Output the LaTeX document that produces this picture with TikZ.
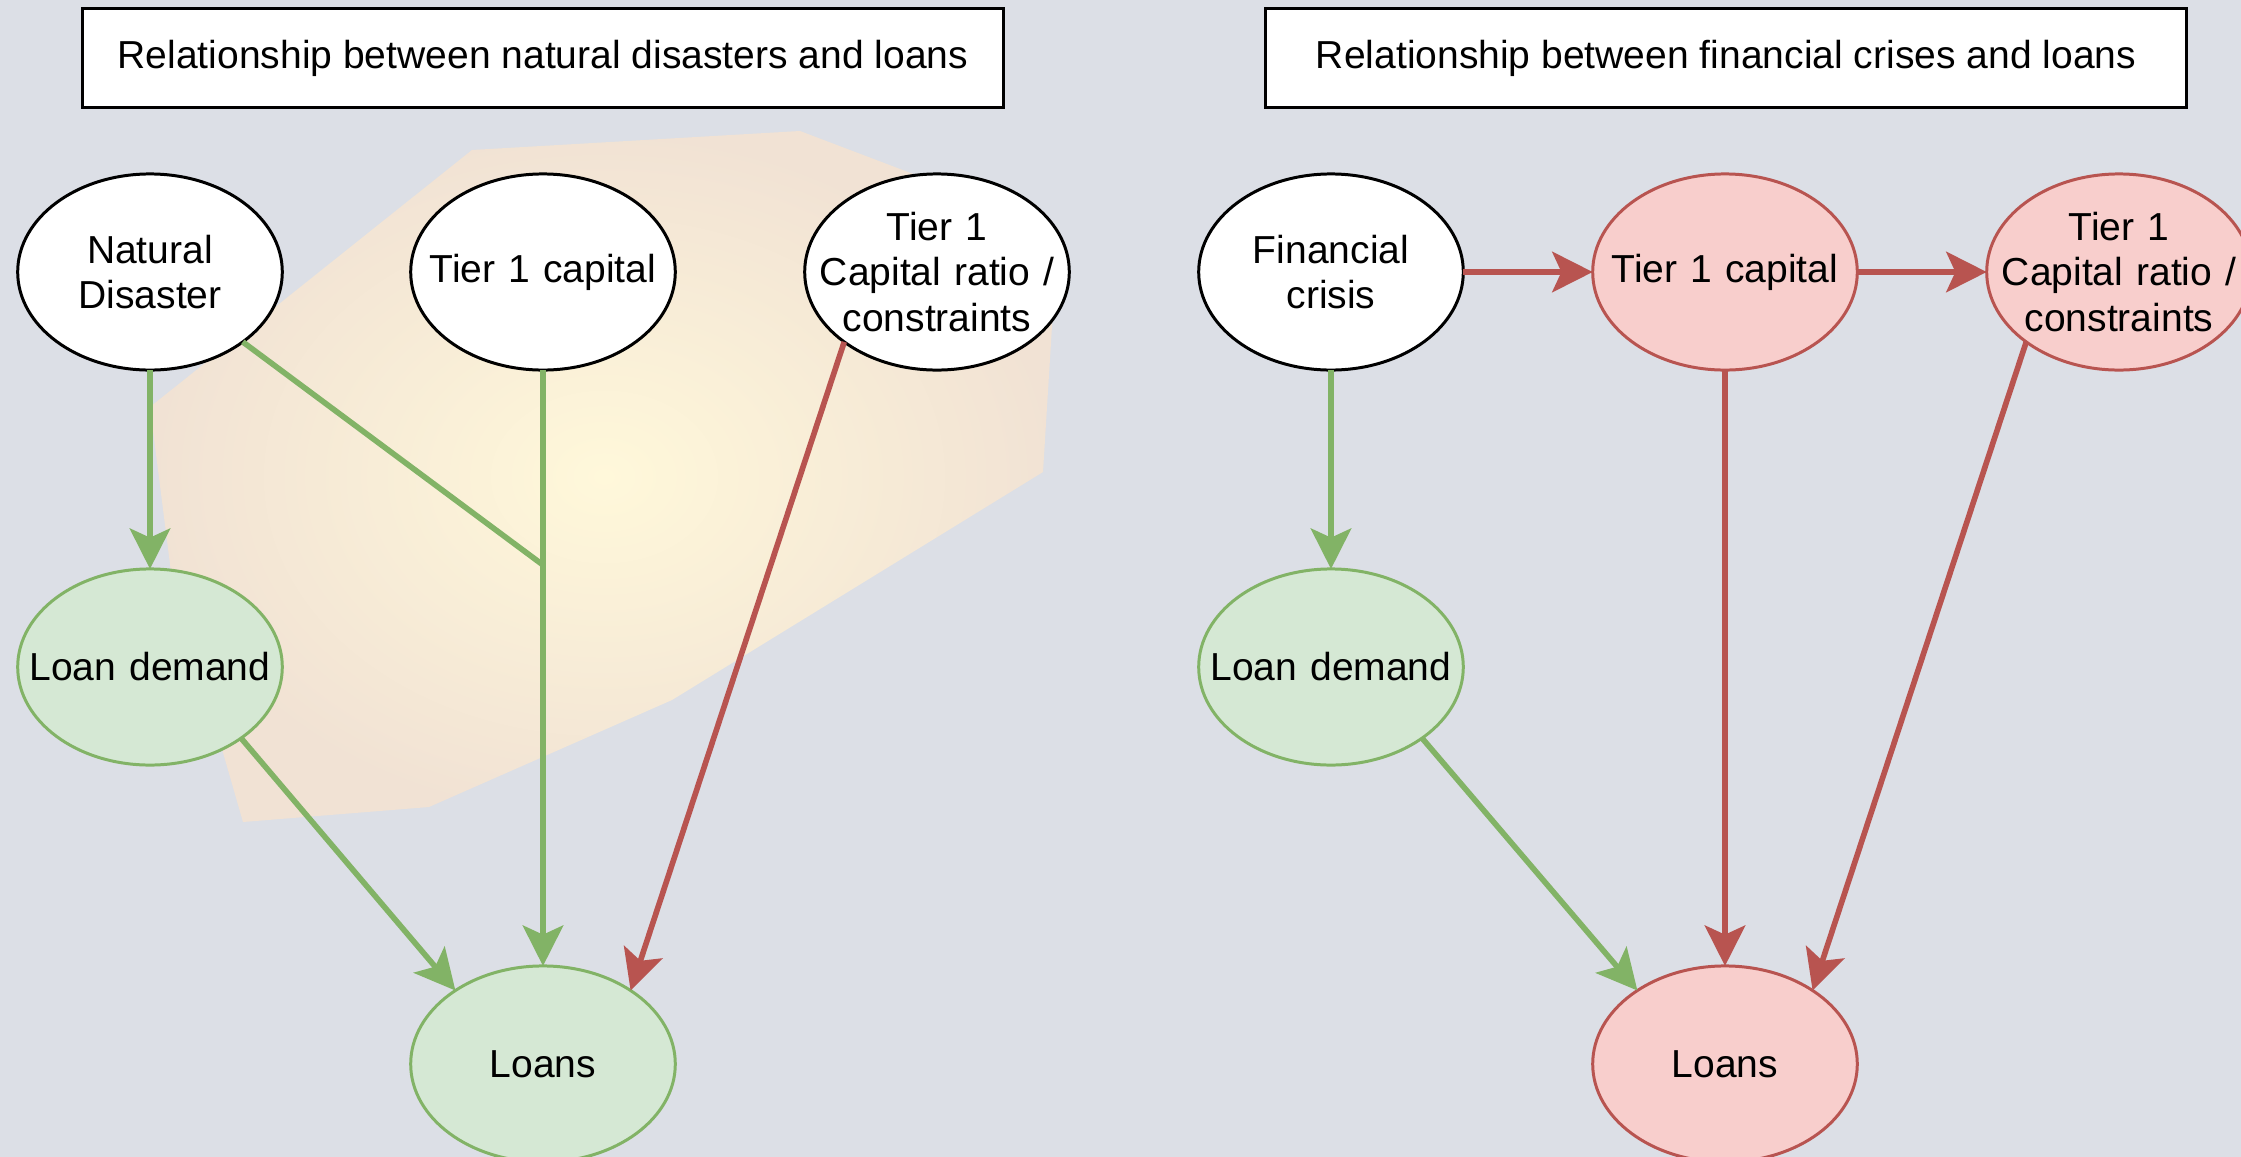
\documentclass[tikz,border=0pt]{standalone}
\usepackage{fontspec}
\setmainfont{Liberation Sans}
\usepackage{xcolor}
\usepackage{tikz}
\usetikzlibrary{arrows.meta,shapes.geometric}

\definecolor{bgblue}{HTML}{DCDFE6}
\definecolor{glowin}{HTML}{FFF8DA}
\definecolor{glowout}{HTML}{F1E2D4}
\definecolor{greenfill}{HTML}{D5E8D4}
\definecolor{greenline}{HTML}{82B366}
\definecolor{redfill}{HTML}{F8CECC}
\definecolor{redline}{HTML}{B85450}

\begin{document}
\begin{tikzpicture}[x=0.01cm,y=-0.01cm]
				\useasboundingbox (0,0) rectangle (2241,1157);
				% backdrop
				\fill[bgblue] (0,0) rectangle (2241,1157);
				\shade[inner color=glowin,outer color=glowout]
				    (150,407) -- (472,150) -- (800,131) -- (1058,229) -- (1043,472)
				    -- (672,700) -- (429,807) -- (243,822) -- (171,572) -- cycle;

				\begin{scope}[every node/.style={rectangle,draw=black,fill=white,line width=0.9pt,
				              minimum width=9.2cm,minimum height=0.99cm,
				              font=\fontsize{11.1}{13}\selectfont}]
				    \node (T1) at (543,58) {Relationship between natural disasters and loans};
				    \node (T2) at (1726,58) {Relationship between financial crises and loans};
				\end{scope}

				\begin{scope}[every node/.style={ellipse,draw=black,fill=white,line width=0.85pt,
				              minimum width=2.64cm,minimum height=1.96cm,text width=2.45cm,
				              inner xsep=-0.29cm,inner ysep=0pt,outer sep=0pt,
				              align=center,font=\fontsize{11.1}{13}\selectfont}]
				    \node (A) at (150,272) {Natural\\Disaster};
				    \node (B) at (543,272) {Tier 1 capital};
				    \node (C) at (937,272) {Tier 1\\Capital ratio /\\constraints};
				    \node[draw=greenline,fill=greenfill] (D) at (150,667) {Loan demand};
				    \node[draw=greenline,fill=greenfill] (E) at (543,1064) {Loans};

				    \node (G) at (1331,272) {Financial\\crisis};
				    \node[draw=redline,fill=redfill] (H) at (1725,272) {Tier 1 capital};
				    \node[draw=redline,fill=redfill] (I) at (2119,272) {Tier 1\\Capital ratio /\\constraints};
				    \node[draw=greenline,fill=greenfill] (K) at (1331,667) {Loan demand};
				    \node[draw=redline,fill=redfill] (L) at (1725,1064) {Loans};
				\end{scope}

				\coordinate (J) at (543,565);

				\begin{scope}[>={Stealth[length=11.5pt,width=11.5pt,inset=2.6pt]},
				              every edge/.style={draw=greenline,line width=1.6pt}]
				    \path [->] (A) edge (D);
				    \path [->] (B) edge (E);
				    \path [->] (D.-38) edge (E.140);
				    \path (A.-37) edge (J);
				    \path [->] (G) edge (K);
				    \path [->] (K.-38) edge (L.140);
				\end{scope}

				\begin{scope}[>={Stealth[length=11.5pt,width=11.5pt,inset=2.6pt]},
				              every edge/.style={draw=redline,line width=1.6pt}]
				    \path [->] (C.217) edge (E.40);
				    \path [->] (G) edge (H);
				    \path [->] (H) edge (I);
				    \path [->] (H) edge (L);
				    \path [->] (I.217) edge (L.40);
				\end{scope}
\end{tikzpicture}
\end{document}
